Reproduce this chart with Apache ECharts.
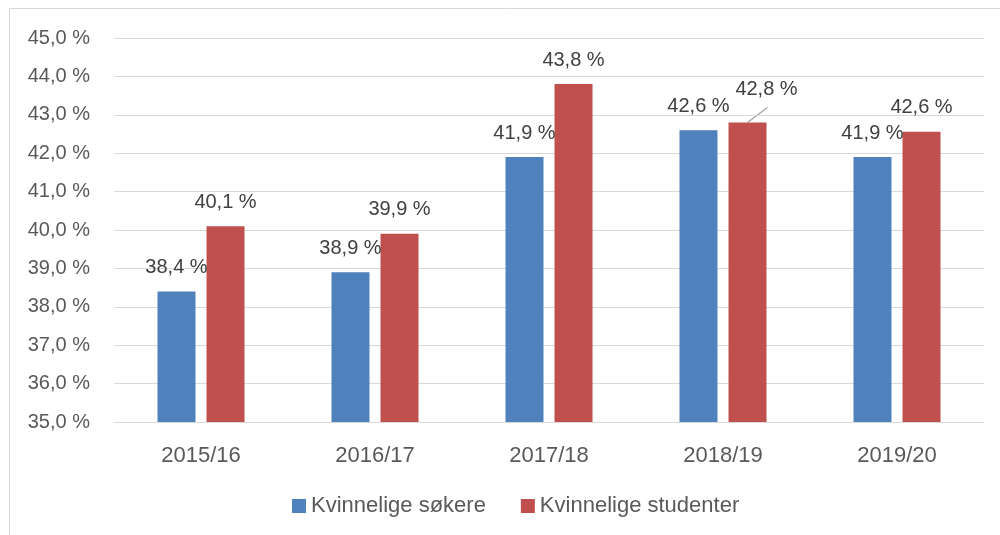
<!DOCTYPE html>
<html>
<head>
<meta charset="utf-8">
<script src="https://cdn.jsdelivr.net/npm/echarts@6/dist/echarts.min.js"></script>
<style>
  html, body { margin: 0; padding: 0; background: #fff; }
  #chart { width: 1000px; height: 535px; }
</style>
</head>
<body>
<div id="chart"></div>
<script>
// data
const years = ['2015/16', '2016/17', '2017/18', '2018/19', '2019/20']
const sokere = [38.4, 38.9, 41.9, 42.6, 41.9]
const studenter = [40.1, 39.9, 43.8, 42.8, 42.56]
const seriesNames = ['Kvinnelige søkere', 'Kvinnelige studenter']

const fmt = (v) => v.toFixed(1).replace('.', ',') + ' %'
const font = '"Liberation Sans", Arial, sans-serif'

const chart = echarts.init(document.getElementById('chart'))

const labelStyle = {
  show: true,
  position: 'top',
  distance: 14,
  fontFamily: font,
  fontSize: 20,
  color: '#404040',
  formatter: (p) => fmt(p.value)
}

const frame = {
  type: 'rect',
  shape: { x: 9.5, y: 8.5, width: 1100, height: 700 },
  style: { fill: 'none', stroke: '#d9d9d9', lineWidth: 1 },
  silent: true
}

chart.setOption({
  animation: false,
  textStyle: { fontFamily: font },
  graphic: [frame],
  grid: { left: 114, right: 16, top: 38, bottom: 113 },
  legend: {
    top: 490,
    left: 287,
    itemWidth: 14,
    itemHeight: 14,
    itemGap: 35,
    icon: 'rect',
    textStyle: { fontFamily: font, fontSize: 22, color: '#595959' },
    data: seriesNames
  },
  xAxis: {
    type: 'category',
    data: years,
    axisLine: { lineStyle: { color: '#d9d9d9' } },
    axisTick: { show: false },
    axisLabel: { fontSize: 22, color: '#595959', margin: 23 }
  },
  yAxis: {
    type: 'value',
    min: 35,
    max: 45,
    interval: 1,
    axisLine: { show: false },
    axisTick: { show: false },
    splitLine: { lineStyle: { color: '#d9d9d9' } },
    axisLabel: { fontSize: 20, color: '#595959', margin: 24, formatter: fmt }
  },
  series: [
    {
      name: seriesNames[0],
      type: 'bar',
      data: sokere,
      barWidth: 38,
      barGap: '29%',
      itemStyle: { color: '#4f81bd' },
      label: labelStyle
    },
    {
      name: seriesNames[1],
      type: 'bar',
      data: studenter,
      barWidth: 38,
      itemStyle: { color: '#c0504d' },
      label: labelStyle,
      // the 2018/19 label is pushed up and right
      labelLayout: (p) => p.dataIndex === 3 ? { dx: 19, dy: -9 } : {}
    }
  ]
})

// leader line from the moved label back to its bar, taken from the bar's layout
const bar = chart.getModel().getSeriesByIndex(1).getData().getItemLayout(3)
if (bar) {
  const cx = bar.x + bar.width / 2
  const top = Math.min(bar.y, bar.y + bar.height)
  chart.setOption({
    graphic: [frame, {
      type: 'line',
      shape: { x1: cx, y1: top, x2: cx + 20, y2: top - 15 },
      style: { stroke: '#a6a6a6', lineWidth: 1.5 },
      silent: true
    }]
  })
}
</script>
</body>
</html>
